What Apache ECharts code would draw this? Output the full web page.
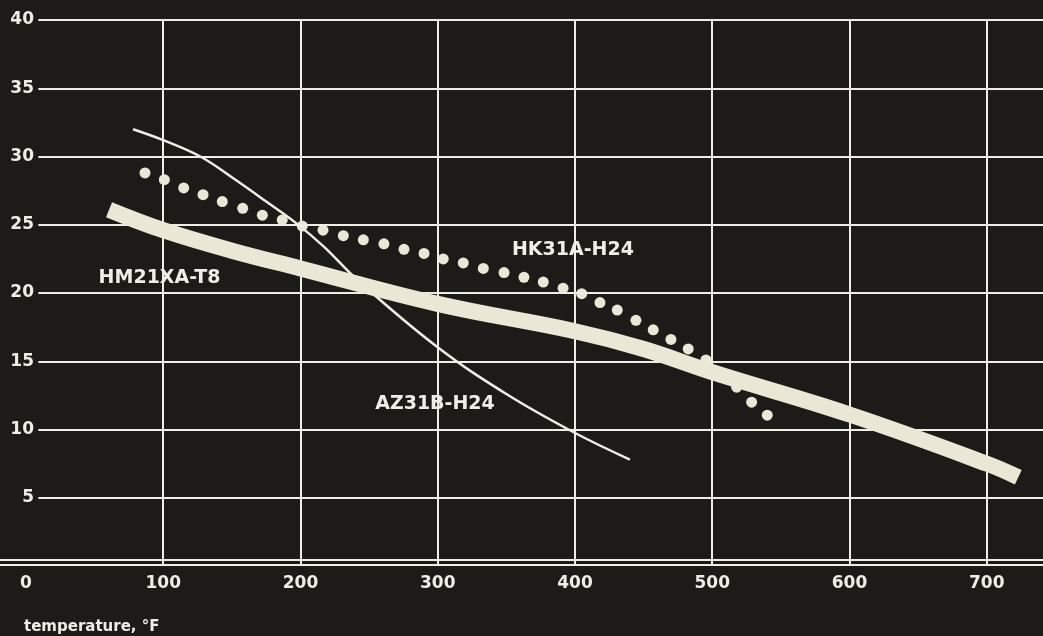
<!DOCTYPE html>
<html>
<head>
<meta charset="utf-8">
<script src="https://cdn.jsdelivr.net/npm/echarts@6/dist/echarts.min.js"></script>
<style>
html,body{margin:0;padding:0;background:#1c1b18;}
#c{width:1043px;height:636px;}
</style>
</head>
<body>
<div id="c"></div>
<script>
// ---- data (temperature °F, value) ----
const xTicks = [0, 100, 200, 300, 400, 500, 600, 700];
const yTicks = [5, 10, 15, 20, 25, 30, 35, 40];

const seriesNames = ['HM21XA-T8', 'AZ31B-H24', 'HK31A-H24'];

const hm21xa = [
  [60.5, 26.1], [100, 24.6], [150, 23.1], [200, 21.8], [300, 19.2],
  [400, 17.2], [450, 15.9], [500, 14.2], [600, 11.1], [700, 7.5], [723, 6.5]
];

const az31b = [
  [78, 32.0], [100, 31.2], [127, 30.0], [151, 28.4], [175, 26.7], [197, 25.1],
  [217, 23.4], [241, 21.0], [299, 16.1], [350, 12.6], [399, 9.8], [440, 7.8]
];

const hk31a = [
  [86.7, 28.8], [100.8, 28.3], [114.9, 27.7], [129.0, 27.2], [143.0, 26.7],
  [157.9, 26.2], [172.2, 25.7], [186.7, 25.35], [201.3, 24.9], [216.4, 24.6],
  [231.2, 24.2], [245.8, 23.9], [260.8, 23.6], [275.4, 23.2], [290.0, 22.9],
  [304.0, 22.5], [318.6, 22.2], [333.2, 21.8], [348.3, 21.5], [362.8, 21.15],
  [376.9, 20.8], [391.3, 20.35], [404.9, 19.95], [418.2, 19.3], [430.8, 18.75],
  [444.4, 18.0], [457.0, 17.3], [469.9, 16.6], [482.5, 15.9], [495.4, 15.1],
  [506.4, 14.1], [517.8, 13.1], [528.7, 12.0], [540.1, 11.05]
];

const xName = 'temperature, °F';

// ---- chart ----
const FONT = 'DejaVu Sans';
const INK = '#eeede6';
const CREAM = '#eae8d5';
const BG = '#1c1b18';

const chart = echarts.init(document.getElementById('c'), null, {renderer: 'canvas'});

function tag(name, coord) {
  return {
    silent: true,
    symbol: 'circle',
    symbolSize: 1,
    itemStyle: {color: 'rgba(0,0,0,0)'},
    label: {
      show: true, position: 'inside', formatter: name,
      color: INK, fontFamily: FONT, fontWeight: 'bold', fontSize: 19
    },
    data: [{coord: coord}]
  };
}

const option = {
  backgroundColor: BG,
  animation: false,
  title: {
    text: xName, left: 19, top: 615,
    textStyle: {color: INK, fontFamily: FONT, fontWeight: 'bold', fontSize: 15}
  },
  grid: {left: 26, right: 0, top: 20, bottom: 70},
  xAxis: {
    type: 'value', min: 0, max: 741, interval: 100,
    axisLine: {show: false}, axisTick: {show: false},
    splitLine: {show: true, showMinLine: false, showMaxLine: false,
      lineStyle: {color: INK, width: 2}},
    axisLabel: {
      color: INK, fontFamily: FONT, fontWeight: 'bold', fontSize: 17, margin: 9,
      showMaxLabel: false,
      formatter: v => xTicks.indexOf(v) >= 0 ? String(v) : ''
    }
  },
  yAxis: {
    type: 'value', min: 0, max: 40, interval: 5,
    axisLine: {show: false}, axisTick: {show: false}, splitLine: {show: false},
    axisLabel: {
      color: INK, fontFamily: FONT, fontWeight: 'bold', fontSize: 17, margin: -8,
      showMinLabel: false,
      formatter: v => yTicks.indexOf(v) >= 0 ? String(v) : ''
    }
  },
  series: [
    {
      name: 'gridlines', type: 'line', data: [], silent: true, z: 1,
      markLine: {
        silent: true, symbol: 'none', animation: false,
        label: {show: false},
        lineStyle: {color: INK, width: 2, type: 'solid'},
        data: yTicks.map(v => [{coord: [9, v]}, {coord: [741, v]}])
      }
    },
    {
      name: seriesNames[1], type: 'line', data: az31b, smooth: 0.4,
      symbol: 'none', showSymbol: false, z: 3,
      lineStyle: {color: INK, width: 2.5},
      markPoint: tag(seriesNames[1], [298, 11.9])
    },
    {
      name: seriesNames[2], type: 'scatter', data: hk31a, symbol: 'circle',
      symbolSize: 11, z: 4, itemStyle: {color: CREAM, opacity: 1},
      markPoint: tag(seriesNames[2], [398.5, 23.15])
    },
    {
      name: seriesNames[0], type: 'line', data: hm21xa, smooth: 0.4,
      symbol: 'none', showSymbol: false, z: 5,
      lineStyle: {color: CREAM, width: 16, cap: 'butt'},
      markPoint: tag(seriesNames[0], [97.3, 21.1])
    }
  ]
};

chart.setOption(option);

// double base line across the full width at value 0
const y0 = chart.convertToPixel({yAxisIndex: 0}, 0);
const w = chart.getWidth();
chart.setOption({
  graphic: [
    {type: 'line', silent: true, z: 2, shape: {x1: 0, y1: y0 - 1, x2: w, y2: y0 - 1},
      style: {stroke: INK, lineWidth: 2}},
    {type: 'line', silent: true, z: 2, shape: {x1: 0, y1: y0 - 6, x2: w, y2: y0 - 6},
      style: {stroke: INK, lineWidth: 2}}
  ]
});
</script>
</body>
</html>
